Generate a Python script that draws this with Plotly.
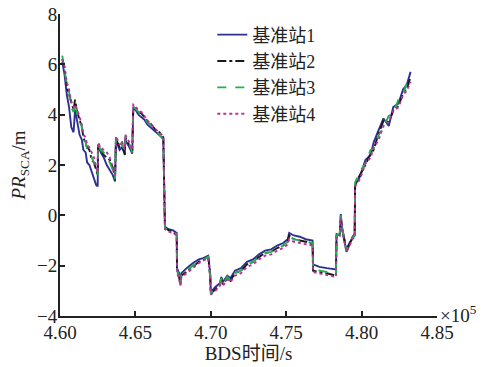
import plotly.graph_objects as go

# BDS time (s)
T = [460150, 460300, 460450, 460600, 460750, 460900, 461000, 461150, 461300, 461450,
     461550, 461700, 461800, 461950, 462100, 462250, 462400, 462500,
     462520, 462700, 462900, 463100, 463300, 463500, 463650,
     463710, 463950, 464100, 464300, 464330, 464600, 464790,
     464860, 465000, 465200, 465400, 465600, 465800, 466000, 466200, 466400, 466600, 466850,
     466960, 467200, 467500, 467740,
     467760, 467900, 467980, 468050, 468400, 468800, 469200, 469500, 469830, 469960,
     470000, 470300, 470600, 470700, 470800, 471100, 471300, 471600, 472000, 472400,
     472800, 473200, 473600, 474000, 474400, 474800, 475100, 475200, 475500,
     475900, 476300, 476750,
     476780, 477200, 477700, 478300,
     478340, 478550, 478620, 478700, 478850, 479000, 479200, 479400, 479540,
     479570, 479900, 480250, 480600, 480800, 481100, 481450, 481800, 482100, 482450,
     482750, 483000, 483250]

station1 = [6.1, 5.6, 4.8, 4.3, 3.5, 3.3, 4.2, 3.6, 3.2, 3.0, 2.6, 2.5, 2.1, 2.0, 1.7, 1.5, 1.2, 1.15,
            2.8, 2.5, 2.3, 2.0, 1.8, 1.6, 1.35,
            3.0, 2.6, 2.7, 2.45, 3.0, 2.7, 2.45,
            4.25, 4.2, 4.0, 3.9, 3.8, 3.6, 3.5, 3.4, 3.3, 3.2, 3.05,
            -0.45, -0.55, -0.6, -0.7,
            -2.1, -2.3, -2.7, -2.3, -2.1, -1.9, -1.75, -1.7, -1.6, -2.3,
            -3.05, -2.85, -2.7, -2.45, -2.65, -2.4, -2.5, -2.2, -2.1, -1.85, -1.75, -1.55, -1.4,
            -1.35, -1.2, -1.1, -0.95, -0.7, -0.8,
            -0.85, -0.95, -1.0,
            -1.95, -2.05, -2.1, -2.15,
            -0.75, -0.8, 0.05, -0.5, -1.0, -1.45, -1.15, -0.85, -0.75,
            1.2, 1.55, 2.2, 2.4, 2.9, 3.35, 3.85, 3.55, 4.3, 4.45, 5.0, 5.2, 5.7]

station2 = [6.2, 5.9, 5.1, 4.8, 4.4, 4.2, 4.6, 4.1, 3.8, 3.5, 3.1, 2.8, 2.7, 2.6, 2.2, 2.1, 1.8, 1.6,
            2.85, 2.65, 2.4, 2.3, 2.2, 1.9, 1.5,
            3.05, 2.7, 2.85, 2.4, 3.1, 2.75, 2.55,
            4.3, 4.25, 4.1, 4.05, 3.9, 3.75, 3.65, 3.5, 3.35, 3.3, 3.1,
            -0.5, -0.6, -0.7, -0.75,
            -2.2, -2.45, -2.75, -2.4, -2.25, -2.05, -1.85, -1.75, -1.65, -2.4,
            -3.1, -2.95, -2.75, -2.5, -2.75, -2.5, -2.6, -2.3, -2.2, -1.95, -1.85, -1.65, -1.5,
            -1.45, -1.3, -1.2, -1.05, -0.8, -0.95,
            -1.0, -1.05, -1.15,
            -2.2, -2.25, -2.3, -2.4,
            -0.8, -0.75, -0.05, -0.5, -0.95, -1.35, -1.1, -0.9, -0.8,
            1.25, 1.6, 2.0, 2.45, 2.6, 3.2, 3.75, 3.7, 4.15, 4.35, 4.85, 5.0, 5.5]

station3 = [6.35, 5.8, 5.2, 4.9, 4.3, 4.1, 4.5, 4.0, 3.7, 3.5, 3.0, 2.9, 2.6, 2.5, 2.3, 2.1, 1.8, 1.6,
            2.85, 2.6, 2.5, 2.35, 2.1, 1.8, 1.45,
            3.1, 2.75, 2.9, 2.55, 3.15, 2.85, 2.5,
            4.3, 4.25, 4.1, 4.0, 3.85, 3.7, 3.6, 3.45, 3.35, 3.2, 3.0,
            -0.5, -0.6, -0.65, -0.75,
            -2.2, -2.4, -2.75, -2.35, -2.2, -2.0, -1.85, -1.75, -1.65, -2.4,
            -3.1, -2.9, -2.75, -2.5, -2.75, -2.45, -2.6, -2.3, -2.2, -1.95, -1.85, -1.65, -1.5,
            -1.45, -1.3, -1.2, -1.05, -0.8, -0.95,
            -1.0, -1.05, -1.1,
            -2.15, -2.2, -2.25, -2.3,
            -0.8, -0.75, 0.0, -0.45, -0.95, -1.4, -1.15, -0.9, -0.8,
            1.3, 1.75, 2.05, 2.6, 2.65, 3.15, 3.5, 3.95, 4.1, 4.6, 4.8, 5.25, 5.55]

station4 = [6.2, 5.9, 5.3, 5.0, 4.5, 4.3, 4.4, 4.2, 3.9, 3.6, 3.2, 3.1, 2.8, 2.7, 2.5, 2.3, 1.9, 1.7,
            2.9, 2.7, 2.6, 2.5, 2.3, 1.9, 1.6,
            3.15, 2.8, 2.95, 2.6, 3.2, 2.9, 2.6,
            4.4, 4.35, 4.15, 4.1, 3.95, 3.75, 3.65, 3.5, 3.4, 3.3, 3.15,
            -0.55, -0.65, -0.7, -0.8,
            -2.3, -2.5, -2.8, -2.45, -2.3, -2.1, -1.9, -1.8, -1.7, -2.5,
            -3.15, -3.0, -2.8, -2.6, -2.8, -2.55, -2.65, -2.4, -2.3, -2.05, -1.95, -1.75, -1.6,
            -1.55, -1.4, -1.3, -1.15, -0.95, -1.05,
            -1.1, -1.15, -1.2,
            -2.25, -2.3, -2.35, -2.45,
            -0.85, -0.8, -0.1, -0.55, -1.0, -1.45, -1.2, -0.95, -0.85,
            1.15, 1.45, 2.05, 2.3, 2.7, 2.95, 3.55, 3.7, 4.15, 4.3, 4.8, 4.95, 5.3]

names = ["基准站1", "基准站2", "基准站3", "基准站4"]
colors = ["#2e3192", "#1a1a1a", "#22b04b", "#b8329b"]
dashes = ["solid", "dashdot", "dash", "dot"]

x_ticks = [460000, 465000, 470000, 475000, 480000, 485000]
x_ticktext = ["4.60", "4.65", "4.70", "4.75", "4.80", "4.85"]
y_ticks = [-4, -2, 0, 2, 4, 6, 8]
y_ticktext = ["\u22124", "\u22122", "0", "2", "4", "6", "8"]

for s in (station1, station2, station3, station4):
    assert len(s) == len(T)

FONT = "Liberation Serif, Noto Sans CJK SC, serif"

fig = go.Figure()
for n, c, d, ys in zip(names, colors, dashes, [station1, station2, station3, station4]):
    fig.add_trace(go.Scatter(x=T, y=ys, mode="lines", name=n,
                             line=dict(color=c, width=1.9, dash=d)))

fig.update_layout(
    width=481, height=367,
    margin=dict(l=60, r=44, t=14, b=51, autoexpand=False),
    paper_bgcolor="white", plot_bgcolor="white",
    font=dict(family=FONT, size=19, color="#222"),
    showlegend=True,
    legend=dict(x=0.404, y=0.992, xanchor="left", yanchor="top",
                bgcolor="rgba(0,0,0,0)", font=dict(size=18, family=FONT),
                tracegroupgap=0),
    xaxis=dict(range=[460000, 485000], tickvals=x_ticks, ticktext=x_ticktext,
               ticks="inside", ticklen=5, tickwidth=1.5, tickcolor="#222",
               showline=True, linewidth=2, linecolor="#222", showgrid=False,
               zeroline=False, tickfont=dict(size=19), automargin=False,
               ticklabelstandoff=-2,
               title=dict(text="BDS时间/s", font=dict(size=19), standoff=4)),
    yaxis=dict(range=[-4, 8], tickvals=y_ticks, ticktext=y_ticktext,
               ticks="inside", ticklen=5, tickwidth=1.5, tickcolor="#222",
               showline=True, linewidth=2, linecolor="#222", showgrid=False,
               zeroline=False, tickfont=dict(size=19), automargin=False,
               ticklabelstandoff=-3,
               title=dict(text="<i>PR</i><sub>SCA</sub>/m", font=dict(size=19), standoff=6)),
)
fig.add_annotation(x=1, y=0, xref="paper", yref="paper", xanchor="left", yanchor="middle",
                   xshift=1, yshift=2, showarrow=False, text="×10<sup>5</sup>",
                   font=dict(size=19, family=FONT))

fig.write_html("out.html", config={"displayModeBar": False},
               post_script="document.body.style.margin='0';document.body.style.padding='0';")
